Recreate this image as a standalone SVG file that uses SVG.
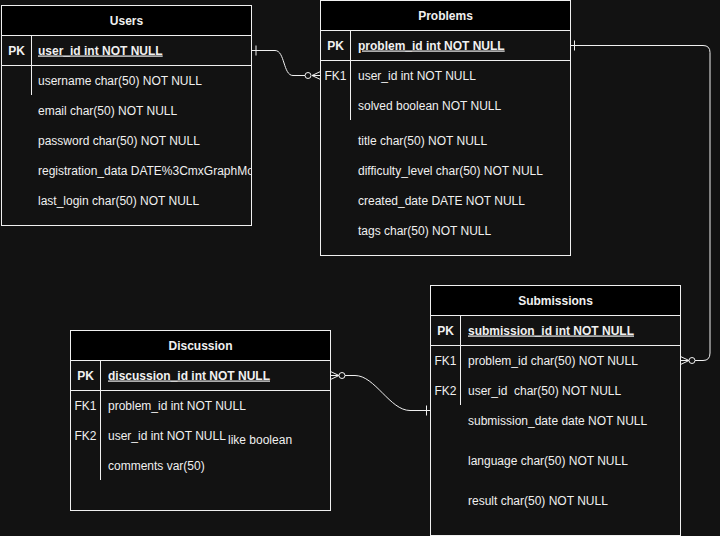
<svg xmlns="http://www.w3.org/2000/svg" width="720" height="536" viewBox="0 0 720 536">
<style>
text{font-family:"Liberation Sans",Arial,sans-serif;font-size:12px;fill:#f0f0f0}
.h{font-weight:bold;text-anchor:middle}
.pk{font-weight:bold;text-anchor:middle}
.k{text-anchor:middle}
.u{font-weight:bold;text-decoration:underline}
.box{fill:#121212;stroke:#f0f0f0;stroke-width:1}
.hd{fill:#000;stroke:#f0f0f0;stroke-width:1}
.ln{stroke:#f0f0f0;stroke-width:1;fill:none}
.c{stroke:#f0f0f0;stroke-width:1;fill:none}
.dot{fill:#121212;stroke:#f0f0f0;stroke-width:1}
</style>
<defs>
<clipPath id="cu"><rect x="1.5" y="5.5" width="250" height="220"/></clipPath>
</defs>
<rect width="720" height="536" fill="#121212"/>

<g id="users">
<rect class="box" x="1.5" y="5.5" width="250" height="220"/>
<rect class="hd" x="1.5" y="5.5" width="250" height="30"/>
<line class="ln" x1="1.5" y1="65.5" x2="251.5" y2="65.5"/>
<line class="ln" x1="31.5" y1="35.5" x2="31.5" y2="95"/>
<text class="h" x="126.5" y="24.5">Users</text>
<text class="pk" x="16.5" y="54.5">PK</text>
<text class="u" x="38" y="54.5">user_id int NOT NULL</text>
<g clip-path="url(#cu)">
<text x="38" y="84.5">username char(50) NOT NULL</text>
<text x="38" y="114.5">email char(50) NOT NULL</text>
<text x="38" y="144.5">password char(50) NOT NULL</text>
<text x="38" y="174.5">registration_data DATE%3CmxGraphModel</text>
<text x="38" y="204.5">last_login char(50) NOT NULL</text>
</g>
</g>

<g id="problems">
<rect class="box" x="320.5" y="0.5" width="250" height="255"/>
<rect class="hd" x="320.5" y="0.5" width="250" height="30"/>
<line class="ln" x1="320.5" y1="60.5" x2="570.5" y2="60.5"/>
<line class="ln" x1="350.5" y1="30.5" x2="350.5" y2="120"/>
<text class="h" x="445.5" y="19.5">Problems</text>
<text class="pk" x="335.5" y="49.5">PK</text>
<text class="u" x="358" y="49.5">problem_id int NOT NULL</text>
<text class="k" x="335.5" y="79.5">FK1</text>
<text x="358" y="79.5">user_id int NOT NULL</text>
<text x="358" y="109.5">solved boolean NOT NULL</text>
<text x="358" y="144.5">title char(50) NOT NULL</text>
<text x="358" y="174.5">difficulty_level char(50) NOT NULL</text>
<text x="358" y="204.5">created_date DATE NOT NULL</text>
<text x="358" y="234.5">tags char(50) NOT NULL</text>
</g>

<g id="submissions">
<rect class="box" x="430.5" y="285.5" width="250" height="250"/>
<rect class="hd" x="430.5" y="285.5" width="250" height="30"/>
<line class="ln" x1="430.5" y1="345.5" x2="680.5" y2="345.5"/>
<line class="ln" x1="460.5" y1="315.5" x2="460.5" y2="405"/>
<text class="h" x="555.5" y="304.5">Submissions</text>
<text class="pk" x="445.5" y="334.5">PK</text>
<text class="u" x="468" y="334.5">submission_id int NOT NULL</text>
<text class="k" x="445.5" y="364.5">FK1</text>
<text x="468" y="364.5">problem_id char(50) NOT NULL</text>
<text class="k" x="445.5" y="394.5">FK2</text>
<text x="468" y="394.5" xml:space="preserve">user_id  char(50) NOT NULL</text>
<text x="468" y="424.5">submission_date date NOT NULL</text>
<text x="468" y="464.5">language char(50) NOT NULL</text>
<text x="468" y="504.5">result char(50) NOT NULL</text>
</g>

<g id="discussion">
<rect class="box" x="70.5" y="330.5" width="260" height="180"/>
<rect class="hd" x="70.5" y="330.5" width="260" height="30"/>
<line class="ln" x1="70.5" y1="390.5" x2="330.5" y2="390.5"/>
<line class="ln" x1="100.5" y1="360.5" x2="100.5" y2="480"/>
<text class="h" x="200.5" y="349.5">Discussion</text>
<text class="pk" x="85.5" y="379.5">PK</text>
<text class="u" x="108" y="379.5">discussion_id int NOT NULL</text>
<text class="k" x="85.5" y="409.5">FK1</text>
<text x="108" y="409.5">problem_id int NOT NULL</text>
<text class="k" x="85.5" y="439.5">FK2</text>
<text x="108" y="439.5">user_id int NOT NULL</text>
<text x="228" y="444">like boolean</text>
<text x="108" y="469.5">comments var(50)</text>
</g>

<g id="connectors">
<!-- Users.user_id -> Problems.user_id -->
<path class="c" d="M251.5,50.5 H275 C285,50.5 283,75.5 293,75.5 H305"/>
<line class="c" x1="256" y1="45.5" x2="256" y2="55.5"/>
<circle class="dot" cx="308" cy="75.5" r="3"/>
<path class="c" d="M320.5,71.5 L312,75.5 L320.5,79.5 M312,75.5 H320.5"/>

<!-- Problems.problem_id -> Submissions.problem_id -->
<path class="c" d="M570.5,45.5 H703 Q710,45.5 710,52.5 V353 Q710,360.5 703,360.5 H695"/>
<line class="c" x1="574.5" y1="40.5" x2="574.5" y2="50.5"/>
<circle class="dot" cx="692" cy="360.5" r="3"/>
<path class="c" d="M680.5,356.5 L689,360.5 L680.5,364.5 M689,360.5 H680.5"/>

<!-- Discussion.discussion_id -> Submissions -->
<path class="c" d="M345,375.5 H355 C375,375.5 390,410.5 410,410.5 H430.5"/>
<line class="c" x1="426.5" y1="405.5" x2="426.5" y2="415.5"/>
<circle class="dot" cx="342" cy="375.5" r="3"/>
<path class="c" d="M330.5,371.5 L339,375.5 L330.5,379.5 M339,375.5 H330.5"/>
</g>
</svg>
